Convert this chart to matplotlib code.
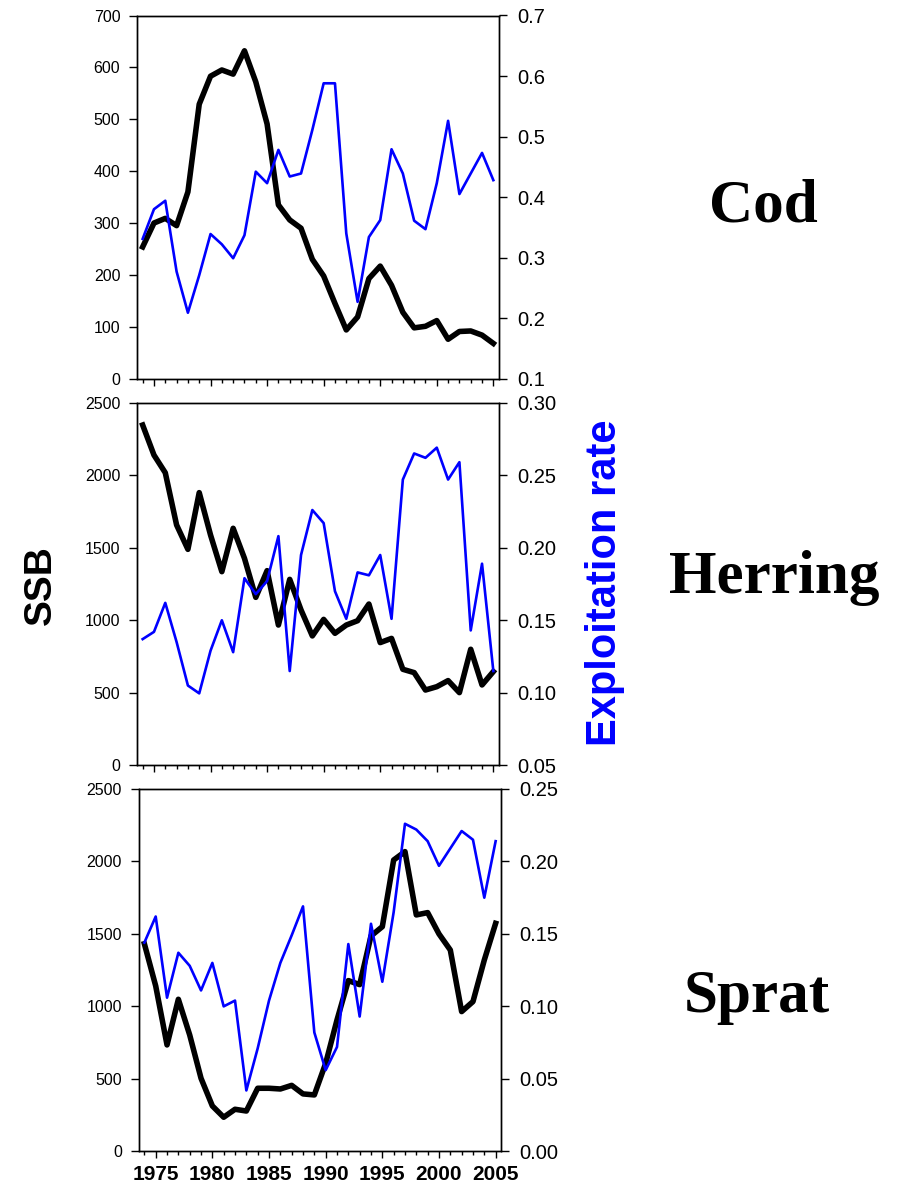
import matplotlib
matplotlib.use("Agg")
import matplotlib.pyplot as plt
from matplotlib.ticker import MultipleLocator, FixedLocator, FormatStrFormatter

plt.rcParams['font.family'] = ['Liberation Sans', 'DejaVu Sans']

years = list(range(1974, 2006))

cod_ssb = [254, 300, 309, 295, 360, 529, 583, 595, 587, 632, 572, 491, 335, 306, 290, 230,
           198, 145, 94, 119, 193, 217, 180, 128, 98, 101, 112, 76, 91, 92, 84, 68]
cod_f = [0.331, 0.380, 0.394, 0.277, 0.209, 0.271, 0.339, 0.322, 0.299, 0.337, 0.442, 0.423,
         0.478, 0.434, 0.439, 0.511, 0.588, 0.588, 0.340, 0.227, 0.334, 0.362, 0.479, 0.439,
         0.361, 0.347, 0.423, 0.526, 0.405, 0.439, 0.473, 0.428]

her_ssb = [2346, 2139, 2017, 1657, 1489, 1880, 1588, 1335, 1634, 1427, 1158, 1342, 967, 1282,
           1071, 892, 1006, 910, 967, 997, 1112, 846, 875, 662, 639, 519, 542, 584, 501, 800,
           554, 646]
her_f = [0.137, 0.142, 0.162, 0.135, 0.105, 0.0996, 0.129, 0.150, 0.128, 0.179, 0.168, 0.177,
         0.208, 0.115, 0.195, 0.226, 0.217, 0.170, 0.151, 0.183, 0.181, 0.195, 0.151, 0.247,
         0.265, 0.262, 0.269, 0.247, 0.259, 0.143, 0.189, 0.115]

spr_ssb = [1432, 1141, 734, 1049, 803, 504, 313, 235, 290, 278, 435, 435, 430, 455, 396, 389,
           607, 906, 1178, 1150, 1486, 1550, 2010, 2068, 1631, 1647, 1500, 1389, 964, 1033,
           1320, 1573]
spr_f = [0.144, 0.162, 0.106, 0.137, 0.128, 0.111, 0.130, 0.100, 0.104, 0.042, 0.071, 0.104,
         0.130, 0.149, 0.169, 0.082, 0.056, 0.072, 0.143, 0.093, 0.157, 0.117, 0.165, 0.226,
         0.222, 0.214, 0.197, 0.209, 0.221, 0.215, 0.175, 0.214]

species = ["Cod", "Herring", "Sprat"]
left_lims = [(0, 700, 100), (0, 2500, 500), (0, 2500, 500)]
right_lims = [(0.1, 0.7, 0.1, '%.1f'), (0.05, 0.30, 0.05, '%.2f'), (0.0, 0.25, 0.05, '%.2f')]
ssb_all = [cod_ssb, her_ssb, spr_ssb]
f_all = [cod_f, her_f, spr_f]

W, H = 904, 1191
fig = plt.figure(figsize=(W / 100, H / 100), dpi=100)

# panel boxes in pixels: left, top, right, bottom
boxes = [(137, 15.5, 499, 378.7), (137, 402.7, 499, 765.3), (138.7, 789, 501.3, 1151.3)]
label_pos = [(763, 207), (774, 578), (757, 997)]

for i in range(3):
    l, t, r, b = boxes[i]
    ax = fig.add_axes([l / W, 1 - b / H, (r - l) / W, (b - t) / H])
    ax2 = ax.twinx()
    ax.plot(years, ssb_all[i], color='black', lw=4.0, solid_joinstyle='round', zorder=2)
    ax2.plot(years, f_all[i], color='#0000ff', lw=1.9, zorder=3)
    ax.set_xlim(1973.5, 2005.5)
    lo, hi, st = left_lims[i]
    ax.set_ylim(lo, hi)
    ax.yaxis.set_major_locator(MultipleLocator(st))
    rlo, rhi, rst, fmt = right_lims[i]
    ax2.set_ylim(rlo, rhi)
    ax2.yaxis.set_major_locator(MultipleLocator(rst))
    ax2.yaxis.set_major_formatter(FormatStrFormatter(fmt))
    ax.xaxis.set_major_locator(FixedLocator([1975, 1980, 1985, 1990, 1995, 2000, 2005]))
    ax.xaxis.set_minor_locator(FixedLocator(years))
    ax.tick_params(axis='y', direction='out', length=6, width=1, labelsize=11.5, pad=6)
    ax2.tick_params(axis='y', direction='out', length=6, width=1, labelsize=14.5, pad=7)
    ax.tick_params(axis='x', which='major', direction='out', length=5, width=1, pad=5)
    ax.tick_params(axis='x', which='minor', direction='out', length=3, width=1)
    if i < 2:
        ax.tick_params(axis='x', which='both', labelbottom=False)
    else:
        for lab in ax.get_xticklabels():
            lab.set_fontweight('bold')
            lab.set_fontsize(15)
    for a in (ax, ax2):
        for s in a.spines.values():
            s.set_linewidth(1.0)
    fig.text(label_pos[i][0] / W, 1 - label_pos[i][1] / H, species[i],
             fontsize=44, fontweight='bold', family=['Liberation Serif', 'DejaVu Serif'],
             ha='center', va='center')

fig.text(41 / W, 1 - 585 / H, "SSB", rotation=90, fontsize=28, fontweight='bold',
         ha='center', va='center')
fig.text(605 / W, 1 - 583 / H, "Exploitation rate", rotation=90, fontsize=30,
         fontweight='bold', color='#0000ff', ha='center', va='center')

fig.savefig("out.png", dpi=100)
